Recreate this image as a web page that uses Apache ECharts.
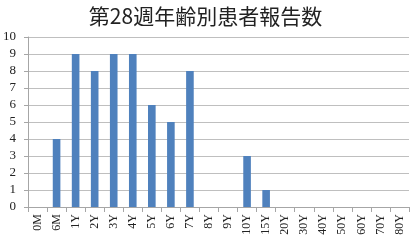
<!DOCTYPE html>
<html><head><meta charset="utf-8">
<script src="https://cdn.jsdelivr.net/npm/echarts@6/dist/echarts.min.js"></script>
<style>html,body{margin:0;padding:0;background:#fff}#c{width:411px;height:244px}</style>
</head><body><div id="c"></div>
<script>
const categories = ['0M','6M','1Y','2Y','3Y','4Y','5Y','6Y','7Y','8Y','9Y','10Y','15Y','20Y','30Y','40Y','50Y','60Y','70Y','80Y'];
const values = [0,4,9,8,9,9,6,5,8,0,0,3,1,0,0,0,0,0,0,0];
const titleText = '第28週年齢別患者報告数';
const chart = echarts.init(document.getElementById('c'), null, {renderer:'canvas'});
chart.setOption({
  animation:false,
  title:{text:titleText,left:'center',top:1,textStyle:{fontFamily:'Noto Sans CJK JP',fontWeight:'normal',fontSize:21,color:'#222'}},
  grid:{left:27,right:2,top:37,bottom:37},
  xAxis:{type:'category',data:categories,
    axisLine:{lineStyle:{color:'#a6a6a6'}},
    axisTick:{show:true,length:5,lineStyle:{color:'#a6a6a6'}},
    axisLabel:{rotate:90,interval:0,fontFamily:'Liberation Serif',fontSize:12,color:'#222',margin:7}},
  yAxis:{type:'value',min:0,max:10,interval:1,
    axisLine:{show:true,lineStyle:{color:'#a6a6a6'}},
    axisTick:{show:true,length:4,lineStyle:{color:'#a6a6a6'}},
    splitLine:{lineStyle:{color:'#bfbfbf'}},
    axisLabel:{fontFamily:'Liberation Serif',fontSize:13,color:'#222',margin:12}},
  series:[{type:'bar',data:values,barWidth:'40%',itemStyle:{color:'#4f81bd'}}]
});
</script></body></html>
